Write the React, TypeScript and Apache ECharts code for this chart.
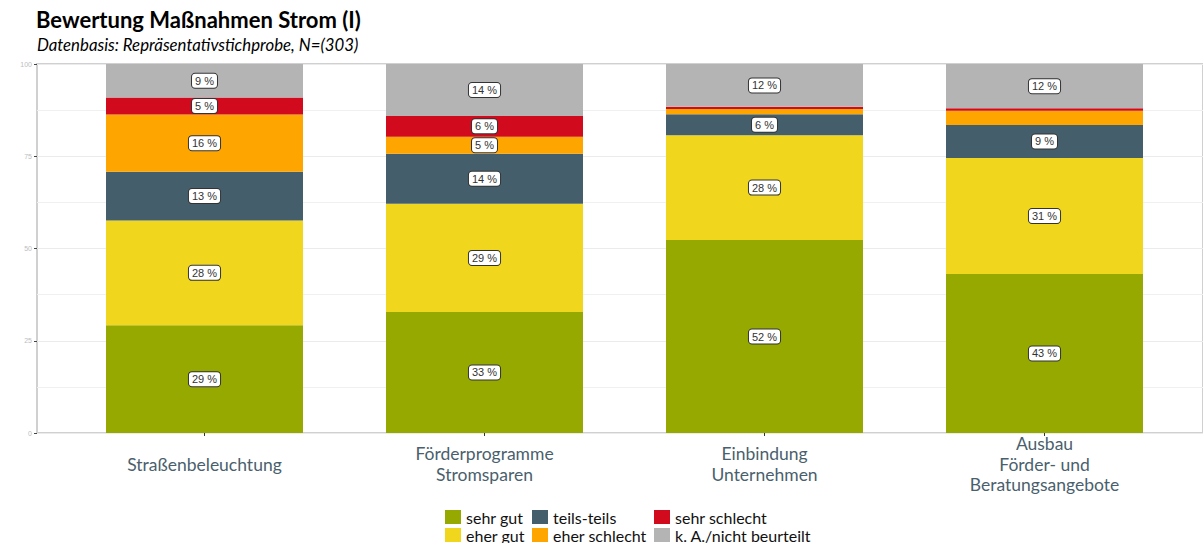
import React, { useEffect, useRef } from "react";
import * as echarts from "echarts";

const categories = [
  "Straßenbeleuchtung",
  "Förderprogramme\nStromsparen",
  "Einbindung\nUnternehmen",
  "Ausbau\nFörder- und\nBeratungsangebote",
];

const seriesNames = [
  "sehr gut",
  "eher gut",
  "teils-teils",
  "eher schlecht",
  "sehr schlecht",
  "k. A./nicht beurteilt",
];

const sehrGut = [29.2, 32.8, 52.3, 43.1];
const eherGut = [28.4, 29.3, 28.4, 31.4];
const teilsTeils = [13.2, 13.6, 5.7, 9.0];
const eherSchlecht = [15.5, 4.6, 1.4, 3.8];
const sehrSchlecht = [4.6, 5.6, 0.6, 0.7];
const keineAngabe = [9.1, 14.1, 11.6, 12.0];

const yTicks = [0, 25, 50, 75, 100];

const colors = ["#95a900", "#f0d71e", "#445f6b", "#ffa500", "#d20a1e", "#b4b4b4"];

const values = [sehrGut, eherGut, teilsTeils, eherSchlecht, sehrSchlecht, keineAngabe];

export default function App() {
  const ref = useRef<HTMLDivElement>(null);
  useEffect(() => {
    if (!ref.current) return;
    const chart = echarts.init(ref.current, null, { renderer: "svg" });
    const font = "Lato";
    const series: any[] = seriesNames.map((name, i) => ({
      name,
      type: "bar",
      stack: "total",
      xAxisIndex: 1,
      yAxisIndex: 1,
      barWidth: 197,
      itemStyle: { color: colors[i] },
      label: {
        position: "inside",
        formatter: (p: any) => `${Math.round(p.value)} %`,
        backgroundColor: "#ffffff",
        borderColor: "#333333",
        borderWidth: 1,
        borderRadius: 3,
        padding: [2, 3, 1, 3],
        fontSize: 11,
        color: "#333333",
        fontFamily: "Liberation Sans",
      },
      data: values[i].map((v) => ({ value: v, label: { show: v >= 4.5 } })),
    }));

    const legendGroups = [
      { names: [seriesNames[0], seriesNames[1]], left: 445 },
      { names: [seriesNames[2], seriesNames[3]], left: 532 },
      { names: [seriesNames[4], seriesNames[5]], left: 654 },
    ];

    chart.setOption({
      animation: false,
      title: [
        {
          text: "Bewertung Maßnahmen Strom (I)",
          left: 36,
          top: 8,
          padding: 0,
          textStyle: { fontFamily: font, fontWeight: "bold", fontSize: 22, color: "#000" },
        },
        {
          text: "Datenbasis: Repräsentativstichprobe, N=(303)",
          left: 37,
          top: 36,
          padding: 0,
          textStyle: { fontFamily: font, fontStyle: "italic", fontWeight: "normal", fontSize: 16.8, color: "#000" },
        },
      ],
      legend: legendGroups.map((g) => ({
        data: g.names,
        orient: "vertical",
        left: g.left,
        top: 509,
        height: 80,
        icon: "rect",
        itemWidth: 16,
        itemHeight: 14,
        itemGap: 2,
        padding: 0,
        textStyle: { fontFamily: font, fontSize: 16, lineHeight: 14, color: "#111" },
        selectedMode: false,
      })),
      grid: [
        {
          left: 37,
          right: -2,
          top: 64,
          bottom: 110,
          show: true,
          borderColor: "#d0d0d0",
          borderWidth: 2,
          backgroundColor: "transparent",
        },
        { left: 64.5, width: 1120, top: 64, bottom: 110 },
      ],
      xAxis: [
        {
          gridIndex: 0,
          type: "value",
          min: 0,
          max: 1,
          axisLine: { show: false },
          axisTick: { show: false },
          axisLabel: { show: false },
          splitLine: { show: false },
        },
        {
          gridIndex: 1,
          type: "category",
          data: categories,
          boundaryGap: true,
          axisLine: { show: false },
          axisTick: { show: true, alignWithLabel: true, length: 3, lineStyle: { color: "#333", width: 1 } },
          axisLabel: {
            fontFamily: font,
            fontSize: 17.5,
            color: "#4a5f6d",
            lineHeight: 20.5,
            verticalAlign: "middle",
            margin: 31,
            interval: 0,
          },
          splitLine: { show: false },
        },
      ],
      yAxis: [
        {
          gridIndex: 0,
          type: "value",
          min: yTicks[0],
          max: yTicks[yTicks.length - 1],
          interval: 25,
          axisLine: { show: false },
          axisTick: { show: true, length: 3, lineStyle: { color: "#444", width: 1 } },
          axisLabel: { fontSize: 7, color: "#bdbdbd", margin: 5, fontFamily: "Liberation Sans" },
          splitLine: { show: true, lineStyle: { color: "#ebebeb", width: 1 } },
          minorTick: { show: false, splitNumber: 2 },
          minorSplitLine: { show: true, lineStyle: { color: "#f0f0f0", width: 1 } },
        },
        {
          gridIndex: 1,
          type: "value",
          min: 0,
          max: 100,
          show: false,
          splitLine: { show: false },
        },
      ],
      series,
    });
    return () => chart.dispose();
  }, []);
  return (
    <div
      ref={ref}
      style={{ position: "fixed", left: 0, top: 0, width: 1203, height: 543, background: "#fff" }}
    />
  );
}
